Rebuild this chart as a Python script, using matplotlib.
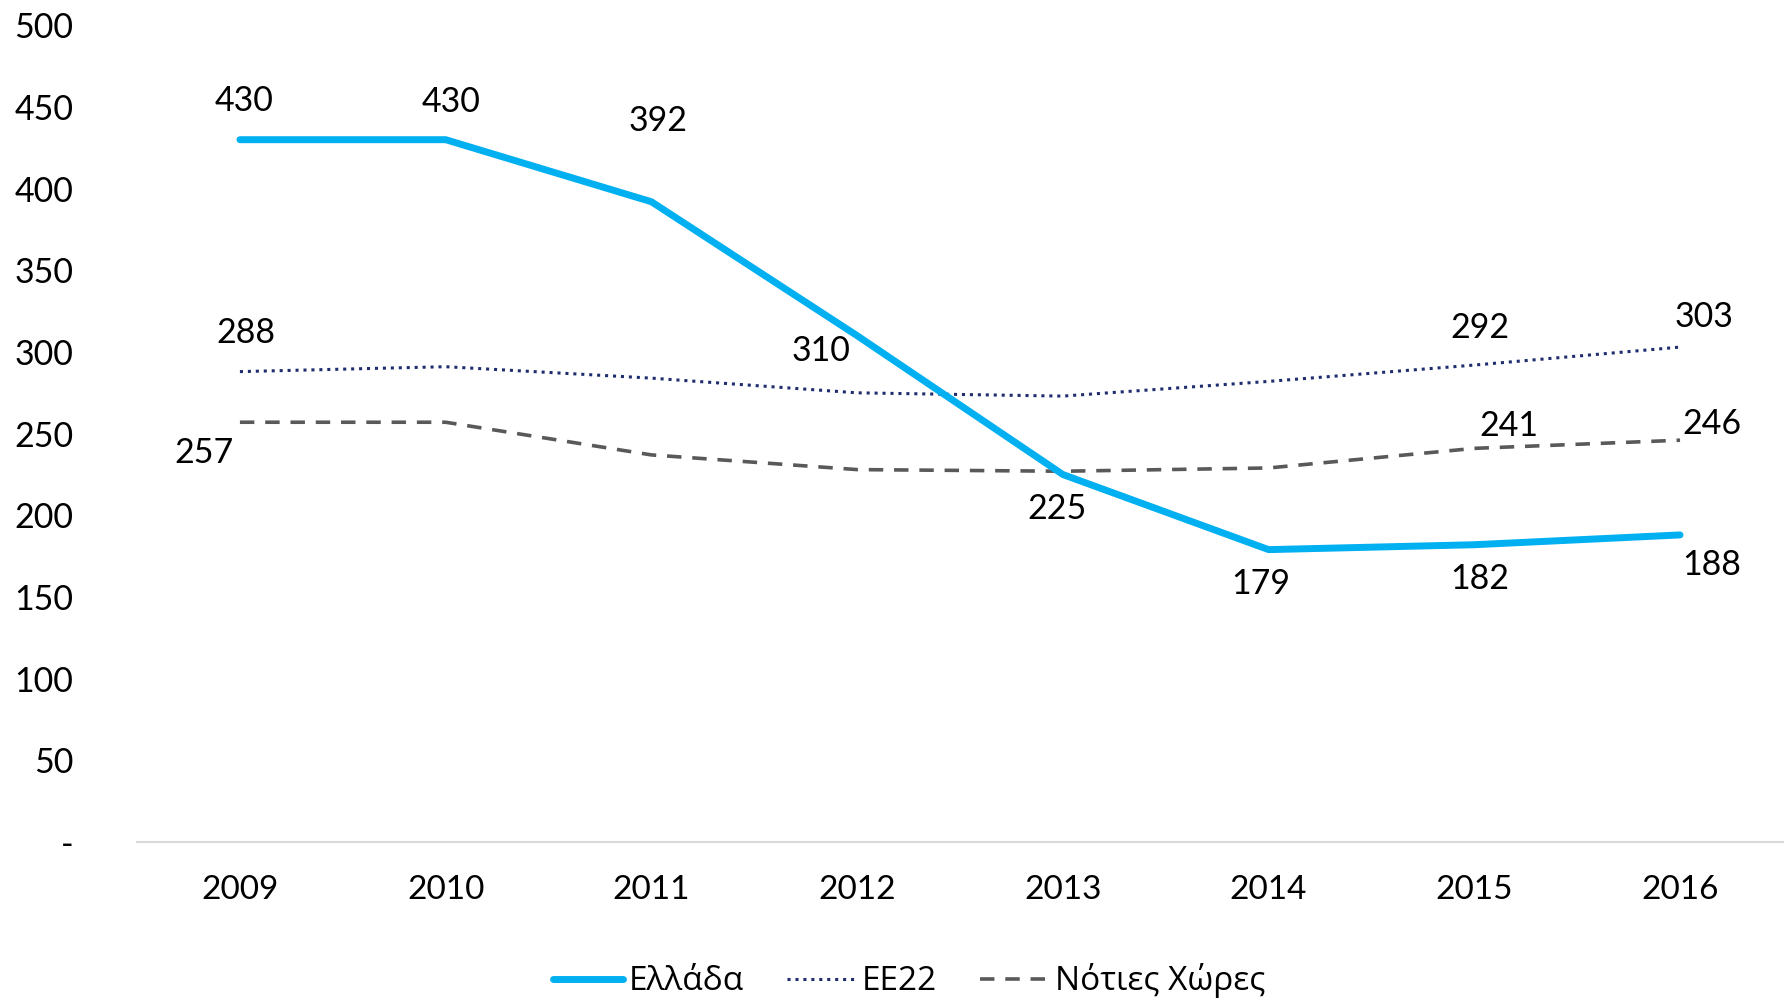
import matplotlib
matplotlib.use("Agg")
import matplotlib.pyplot as plt
from matplotlib.ticker import FixedLocator

years = ["2009", "2010", "2011", "2012", "2013", "2014", "2015", "2016"]
greece = [430, 430, 392, 310, 225, 179, 182, 188]
ee22 = [288, 291, 284, 275, 273, 282, 292, 303]
south = [257, 257, 237, 228, 227, 229, 241, 246]
series_names = ["Ελλάδα", "ΕΕ22", "Νότιες Χώρες"]
ytick_vals = [0, 50, 100, 150, 200, 250, 300, 350, 400, 450, 500]
ytick_labels = ["-", "50", "100", "150", "200", "250", "300", "350", "400", "450", "500"]

plt.rcParams['font.family'] = ['Lato', 'DejaVu Sans']

fig = plt.figure(figsize=(17.87, 10.02), dpi=100)
ax = fig.add_axes([0.0767, 0.1597, 0.921, 0.815])

x = list(range(len(years)))
ax.plot(x, greece, color="#00B0F0", lw=5, solid_capstyle="round", label=series_names[0], zorder=3)
ax.plot(x, ee22, color="#1F2D6E", lw=2.2, linestyle=(0, (1, 1.6)), label=series_names[1], zorder=2)
ax.plot(x, south, color="#595959", lw=2.6, linestyle=(0, (4, 3)), label=series_names[2], zorder=2)

ax.set_xlim(-0.5, 7.5)
ax.set_ylim(0, 500)
ax.yaxis.set_major_locator(FixedLocator(ytick_vals))
ax.set_yticklabels(ytick_labels)
ax.set_xticks(x)
ax.set_xticklabels(years)
ax.tick_params(axis="y", length=0, pad=46, labelsize=24.5)
ax.tick_params(axis="x", length=0, pad=24, labelsize=24)
for lab in ax.get_yticklabels():
    lab.set_horizontalalignment("right")
for s in ["top", "right", "left"]:
    ax.spines[s].set_visible(False)
ax.spines["bottom"].set_color("#D9D9D9")
ax.spines["bottom"].set_linewidth(1.5)

fs = 24.5
g_off = [(3, 28), (4, 27), (5, 58), (-26, -11), (-4, -25), (-6, -25), (4, -25), (23, -22)]
for i, (v, o) in enumerate(zip(greece, g_off)):
    ax.annotate(str(v), (i, v), xytext=o, textcoords="offset points",
                ha="center", va="center", fontsize=fs, color="black")

e_lab = {0: (4, 28), 6: (4, 27), 7: (17, 22)}
for i, o in e_lab.items():
    ax.annotate(str(ee22[i]), (i, ee22[i]), xytext=o, textcoords="offset points",
                ha="center", va="center", fontsize=fs, color="black")

s_lab = {0: (-26, -22), 6: (25, 16), 7: (23, 12)}
for i, o in s_lab.items():
    ax.annotate(str(south[i]), (i, south[i]), xytext=o, textcoords="offset points",
                ha="center", va="center", fontsize=fs, color="black")

leg = fig.legend(loc="center", bbox_to_anchor=(0.509, 0.021), ncol=3, frameon=False,
                 handlelength=2.1, handletextpad=0.15, columnspacing=1.3,
                 prop={'family': ['Open Sans', 'DejaVu Sans'], 'size': 24})

fig.savefig("out.png", dpi=100)
